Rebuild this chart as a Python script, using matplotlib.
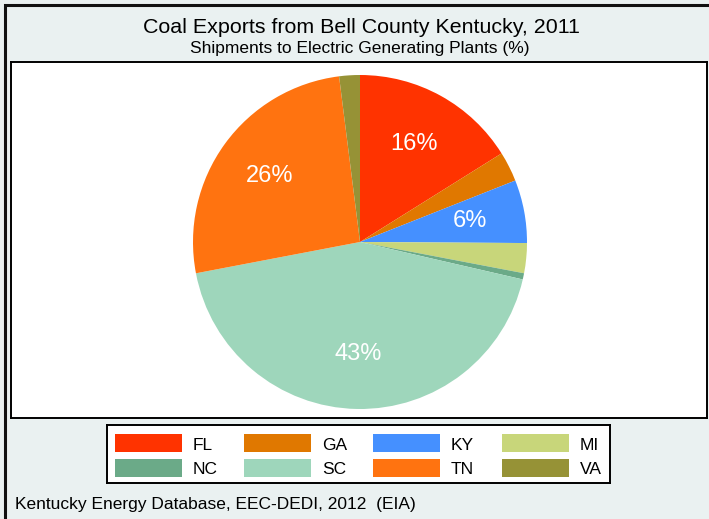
import matplotlib
matplotlib.use("Agg")
import matplotlib.pyplot as plt
from matplotlib.patches import Rectangle

plt.rcParams['font.family'] = ['Liberation Sans', 'DejaVu Sans']

states = ['FL', 'GA', 'KY', 'MI', 'NC', 'SC', 'TN', 'VA']
shares = [16.1, 2.9, 6.1, 2.9, 0.6, 43.4, 26.0, 2.0]
colors = ['#FF3300', '#E07800', '#4590FF', '#C8D67A',
          '#6BAA88', '#9ED6BB', '#FF7310', '#969236']

title = 'Coal Exports from Bell County Kentucky, 2011'
subtitle = 'Shipments to Electric Generating Plants (%)'
note = 'Kentucky Energy Database, EEC-DEDI, 2012  (EIA)'

W, H = 709, 519
bg = '#EAF1F1'


def box(x0, y0, x1, y1):
    # pixel box (top-left origin) -> figure fraction rect
    return [x0 / W, 1 - y1 / H, (x1 - x0) / W, (y1 - y0) / H]


fig = plt.figure(figsize=(W / 100, H / 100), dpi=100, facecolor=bg)

# outer frame (only top and left edges visible)
fig.patches.append(Rectangle((5 / W, -0.1), 1.2, 1 - 5 / H + 0.1,
                             transform=fig.transFigure, fill=False,
                             edgecolor='#111111', linewidth=2.2))

fig.text(361 / W, 1 - 32.7 / H, title, ha='center', va='baseline',
         fontsize=15.4)
fig.text(360 / W, 1 - 52.7 / H, subtitle, ha='center', va='baseline',
         fontsize=12.5)
fig.text(15 / W, 1 - 509.3 / H, note, ha='left', va='baseline',
         fontsize=12.5)

# plot region
region = fig.add_axes(box(11, 62, 707, 418))
region.set_facecolor('white')
region.set_xticks([])
region.set_yticks([])
for s in region.spines.values():
    s.set_linewidth(1.4)
    s.set_color('black')

# pie
r = 167
cx, cy = 360, 242
ax = fig.add_axes(box(cx - r, cy - r, cx + r, cy + r))
ax.set_axis_off()


def pct_label(p):
    return f'{p:.0f}%' if p > 5 else ''


wedges, _, autotexts = ax.pie(shares, colors=colors, startangle=90,
                              counterclock=False, autopct=pct_label,
                              pctdistance=0.67,
                              wedgeprops=dict(linewidth=0),
                              textprops=dict(color='white', fontsize=17))
ax.set_xlim(-1, 1)
ax.set_ylim(-1, 1)
ax.set_aspect('equal')

# legend box
lx0, ly0, lx1, ly1 = 107, 425, 610, 483
leg = fig.add_axes(box(lx0, ly0, lx1, ly1))
leg.set_xlim(lx0, lx1)
leg.set_ylim(ly1, ly0)
leg.set_facecolor('white')
leg.set_xticks([])
leg.set_yticks([])
for s in leg.spines.values():
    s.set_linewidth(1.4)
    s.set_color('black')

for i, (name, c) in enumerate(zip(states, colors)):
    row, col = divmod(i, 4)
    x = 115 + col * 129
    y = 434 + row * 25
    leg.add_patch(Rectangle((x, y), 67, 18, facecolor=c, edgecolor='none'))
    leg.text(x + 78, y + 15.5, name, ha='left', va='baseline', fontsize=12.5)

fig.savefig('out.png', dpi=100, facecolor=bg)
